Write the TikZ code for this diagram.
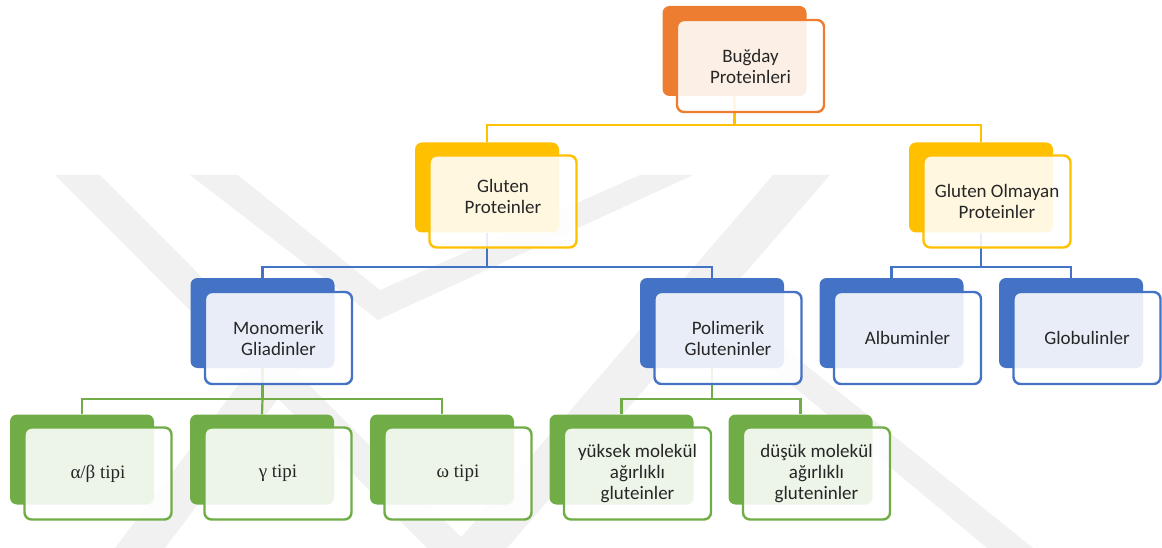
\documentclass[tikz,border=0pt]{standalone}
\usepackage{fontspec}
\setmainfont{Carlito}
\newfontfamily\greekfont{Liberation Serif}
\usepackage{xcolor}
\usetikzlibrary{positioning}

\definecolor{borange}{HTML}{ED7D31}
\definecolor{byellow}{HTML}{FFC000}
\definecolor{bblue}{HTML}{4472C4}
\definecolor{bgreen}{HTML}{70AD47}
\definecolor{wmark}{HTML}{F1F1F1}

\tikzset{
  backbox/.style={rectangle, rounded corners=7pt, inner sep=0pt,
    minimum width=144pt, minimum height=90pt, fill=#1},
  frontbox/.style={rectangle, rounded corners=7pt, inner sep=0pt,
    minimum width=147pt, minimum height=92pt, draw=#1, line width=2.4pt,
    fill=white, fill opacity=0.88, draw opacity=1, text opacity=1, text=black!85,
    align=center, font=\fontsize{19}{21}\selectfont},
  link/.style={draw=#1, line width=2.2pt},
}

\begin{document}
\begin{tikzpicture}[x=1pt, y=-1pt]
    \useasboundingbox (0,0) rectangle (1162,548);

    % filigran
    \fill[wmark] (55,175) -- (100,175) -- (472,548) -- (427,548) -- cycle;
    \fill[wmark] (190,175) -- (238,175) -- (380,290) -- (640,175) -- (693,175) -- (378,320) -- cycle;
    \fill[wmark] (773,175) -- (830,175) -- (507,548) -- (452,548) -- cycle;
    \fill[wmark] (690,300) -- (725,300) -- (1033,548) -- (987,548) -- cycle;
    \fill[wmark] (115,548) -- (165,548) -- (330,330) -- (280,330) -- cycle;

    % arka kutular
    \node[backbox=borange] (root-b) at (734.5,51) {};
    \node[backbox=byellow] (glut-b) at (487,187.5) {};
    \node[backbox=byellow] (gom-b)  at (981,187.5) {};
    \node[backbox=bblue]   (mono-b) at (262.5,323) {};
    \node[backbox=bblue]   (poli-b) at (712,323) {};
    \node[backbox=bblue]   (alb-b)  at (891.5,323) {};
    \node[backbox=bblue]   (glob-b) at (1071,323) {};
    \node[backbox=bgreen]  (ab-b)   at (82,459.5) {};
    \node[backbox=bgreen]  (gam-b)  at (262,459.5) {};
    \node[backbox=bgreen]  (om-b)   at (442,459.5) {};
    \node[backbox=bgreen]  (yuk-b)  at (621.5,459.5) {};
    \node[backbox=bgreen]  (dus-b)  at (800.5,459.5) {};

    % baglantilar
    \coordinate (j1) at (734.5,125);
    \coordinate (j2) at (487,267);
    \coordinate (j3) at (981,267);
    \coordinate (j4) at (262.5,399);
    \coordinate (j5) at (712,399);
    \draw[link=byellow] (root-b.south) -- (j1);
    \draw[link=byellow] (glut-b.north) |- (j1) -| (gom-b.north);
    \draw[link=bblue] (glut-b.south) -- (j2);
    \draw[link=bblue] (mono-b.north) |- (j2) -| (poli-b.north);
    \draw[link=bblue] (gom-b.south) -- (j3);
    \draw[link=bblue] (alb-b.north) |- (j3) -| (glob-b.north);
    \draw[link=bgreen] (mono-b.south) -- (j4);
    \draw[link=bgreen] (ab-b.north) |- (j4) -| (om-b.north);
    \draw[link=bgreen] (gam-b.north) -- (j4);
    \draw[link=bgreen] (poli-b.south) -- (j5);
    \draw[link=bgreen] (yuk-b.north) |- (j5) -| (dus-b.north);

    % on kutular
    \node[frontbox=borange] (root) at ([shift={(16,15)}]root-b.center) {Buğday\\Proteinleri};
    \node[frontbox=byellow] (glut) at ([shift={(16,14)}]glut-b.center) {Gluten\\Proteinler\\[-10pt]\mbox{}};
    \node[frontbox=byellow] (gom)  at ([shift={(16,14)}]gom-b.center) {Gluten Olmayan\\Proteinler};
    \node[frontbox=bblue]   (mono) at ([shift={(16,15)}]mono-b.center) {Monomerik\\Gliadinler};
    \node[frontbox=bblue]   (poli) at ([shift={(16,15)}]poli-b.center) {Polimerik\\Gluteninler};
    \node[frontbox=bblue]   (alb)  at ([shift={(16,15)}]alb-b.center) {Albuminler};
    \node[frontbox=bblue]   (glob) at ([shift={(16,15)}]glob-b.center) {Globulinler};
    \node[frontbox=bgreen]  (ab)   at ([shift={(16,14)}]ab-b.center) {\greekfont α/β tipi};
    \node[frontbox=bgreen]  (gam)  at ([shift={(16,14)}]gam-b.center) {\greekfont γ tipi};
    \node[frontbox=bgreen]  (om)   at ([shift={(16,14)}]om-b.center) {\greekfont ω tipi};
    \node[frontbox=bgreen]  (yuk)  at ([shift={(16,14)}]yuk-b.center) {yüksek molekül\\ağırlıklı\\gluteinler};
    \node[frontbox=bgreen]  (dus)  at ([shift={(16,14)}]dus-b.center) {düşük molekül\\ağırlıklı\\gluteninler};
\end{tikzpicture}
\end{document}
